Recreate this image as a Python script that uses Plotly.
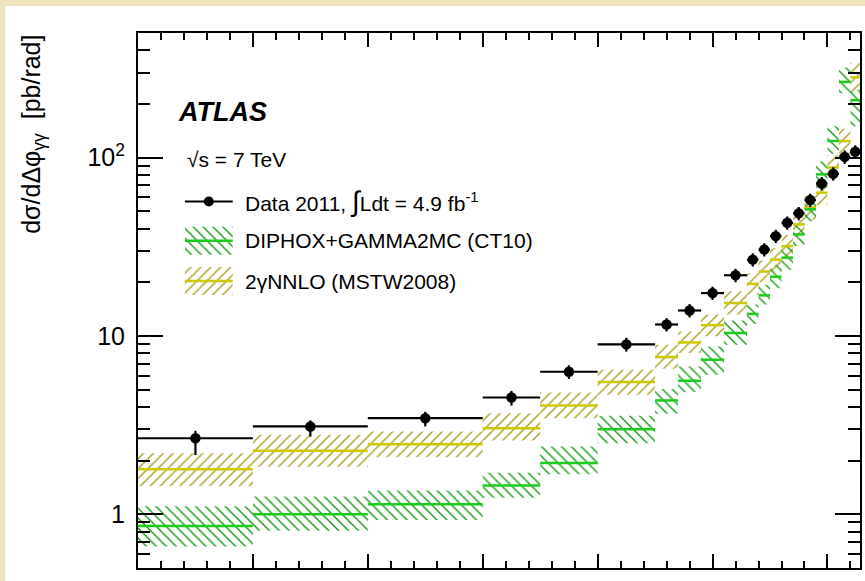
import numpy as np
import plotly.graph_objects as go

# ---------------- data ----------------
bin_edges = [0.0, 0.5, 1.0, 1.5, 1.75, 2.0, 2.25, 2.35, 2.45, 2.55, 2.65,
             2.7, 2.75, 2.8, 2.85, 2.9, 2.95, 3.0, 3.05, 3.1, float(np.pi)]

data_val = [2.67, 3.11, 3.46, 4.52, 6.3, 8.97, 11.6, 13.9, 17.4, 21.9,
            26.8, 30.5, 36.3, 43.1, 48.7, 57.8, 71.7, 81.3, 101, 108]
data_err_up = [0.27, 0.25, 0.30, 0.40, 0.55, 0.8, 1.0, 1.2, 1.5, 1.9,
               2.3, 2.6, 3.1, 3.7, 4.2, 5.0, 6.2, 7.0, 8.7, 9.3]
data_err_dn = [0.52, 0.38, 0.35, 0.45, 0.55, 0.8, 1.0, 1.2, 1.5, 1.9,
               2.3, 2.6, 3.1, 3.7, 4.2, 5.0, 6.2, 7.0, 8.7, 9.3]

diphox_val = [0.86, 1.0, 1.14, 1.45, 1.94, 3.0, 4.35, 5.61, 7.36, 10.4,
              13.3, 16.9, 21.5, 27.5, 37.1, 51.3, 80.6, 124, 266, 210]
diphox_lo = [0.66, 0.81, 0.93, 1.24, 1.68, 2.5, 3.66, 4.85, 6.06, 8.93,
             11.7, 15.0, 18.5, 23.5, 32, 44, 68, 105, 230, 150]
diphox_hi = [1.11, 1.26, 1.36, 1.71, 2.4, 3.57, 5.04, 6.75, 8.74, 12.2,
             15.0, 19.4, 25, 32, 43, 60, 95, 150, 320, 240]

nnlo_val = [1.79, 2.27, 2.47, 3.04, 4.07, 5.52, 7.62, 9.2, 11.5, 15.3,
            19.6, 23, 26.8, 31.9, 42.2, 52.5, 63.6, 88, 124, 282]
nnlo_lo = [1.44, 1.85, 2.09, 2.59, 3.46, 4.68, 6.55, 8.02, 9.95, 13.2,
           17, 20, 23, 27.5, 36, 45, 54, 75, 105, 230]
nnlo_hi = [2.2, 2.79, 2.91, 3.69, 4.82, 6.47, 8.93, 10.6, 13.2, 17.8,
           22.5, 26.5, 31, 37, 49, 61, 74, 103, 145, 340]

x_major_ticks = [0, 0.5, 1.0, 1.5, 2.0, 2.5, 3.0]
x_minor_ticks = [round(0.1 * i, 2) for i in range(32)]
y_tick_vals = [1, 10, 100]
y_tick_text = ["1", "10", "10<sup>2</sup>"]
y_minor_ticks = [0.5, 0.6, 0.7, 0.8, 0.9, 2, 3, 4, 5, 6, 7, 8, 9,
                 20, 30, 40, 50, 60, 70, 80, 90, 200, 300, 400, 500]

legend_labels = ["Data 2011, <span style='font-size:28px'>∫</span>Ldt = 4.9 fb<sup>-1</sup>",
                 "DIPHOX+GAMMA2MC (CT10)",
                 "2γNNLO (MSTW2008)"]

# ---------------- styles ----------------
FONT = "Liberation Sans, Arial, Helvetica, sans-serif"
GREEN_HATCH = "#139a13"
GREEN_LINE = "#1ccc1c"
YEL_HATCH = "#a89e1e"
YEL_LINE = "#cdc800"
BEIGE = "#EFE4BE"
HATCH_SIZE = 7
HATCH_SOLIDITY = 0.2

centers = [(bin_edges[i] + bin_edges[i + 1]) / 2 for i in range(len(data_val))]
halfw = [(bin_edges[i + 1] - bin_edges[i]) / 2 for i in range(len(data_val))]


def band_xy(lo, hi):
    xs, ys = [], []
    for i in range(len(lo)):
        x0, x1 = bin_edges[i], bin_edges[i + 1]
        xs += [x0, x1, x1, x0, x0, None]
        ys += [lo[i], lo[i], hi[i], hi[i], lo[i], None]
    return xs, ys


def step_xy(v):
    xs, ys = [], []
    for i in range(len(v)):
        xs += [bin_edges[i], bin_edges[i + 1], None]
        ys += [v[i], v[i], None]
    return xs, ys


def hatch(shape, color):
    return dict(shape=shape, fgcolor=color, bgcolor="rgba(0,0,0,0)",
                size=HATCH_SIZE, solidity=HATCH_SOLIDITY, fgopacity=1)


fig = go.Figure()

# NNLO band
bx, by = band_xy(nnlo_lo, nnlo_hi)
fig.add_trace(go.Scatter(x=bx, y=by, mode="none", fill="toself",
                         fillcolor="rgba(0,0,0,0)", fillpattern=hatch("/", YEL_HATCH),
                         hoverinfo="skip"))
# DIPHOX band
bx, by = band_xy(diphox_lo, diphox_hi)
fig.add_trace(go.Scatter(x=bx, y=by, mode="none", fill="toself",
                         fillcolor="rgba(0,0,0,0)", fillpattern=hatch("\\", GREEN_HATCH),
                         hoverinfo="skip"))
sx, sy = step_xy(nnlo_val)
fig.add_trace(go.Scatter(x=sx, y=sy, mode="lines", line=dict(color=YEL_LINE, width=2.5)))
sx, sy = step_xy(diphox_val)
fig.add_trace(go.Scatter(x=sx, y=sy, mode="lines", line=dict(color=GREEN_LINE, width=2.5)))

# Data
fig.add_trace(go.Scatter(
    x=centers, y=data_val, mode="markers",
    marker=dict(color="black", size=10.5, symbol="circle"),
    error_y=dict(type="data", symmetric=False, array=data_err_up, arrayminus=data_err_dn,
                 thickness=2.2, width=0, color="black"),
    error_x=dict(type="data", array=halfw, thickness=2.2, width=0, color="black"),
))

# ---------------- legend (drawn on an overlay pixel axis) ----------------
LEG_X0, LEG_X1 = 185, 233
LEG_TEXT_X = 243
ROW_Y = [201.5, 240.7, 281]
BOX_H = 28

fig.add_trace(go.Scatter(x=[LEG_X0, LEG_X1], y=[ROW_Y[0], ROW_Y[0]], mode="lines",
                         line=dict(color="black", width=2.2), xaxis="x2", yaxis="y2"))
fig.add_trace(go.Scatter(x=[(LEG_X0 + LEG_X1) / 2], y=[ROW_Y[0]], mode="markers",
                         marker=dict(color="black", size=10), xaxis="x2", yaxis="y2"))
for row, shape, hcol, lcol in [(1, "\\", GREEN_HATCH, GREEN_LINE), (2, "/", YEL_HATCH, YEL_LINE)]:
    yc = ROW_Y[row]
    fig.add_trace(go.Scatter(
        x=[LEG_X0, LEG_X1, LEG_X1, LEG_X0, LEG_X0],
        y=[yc - BOX_H / 2, yc - BOX_H / 2, yc + BOX_H / 2, yc + BOX_H / 2, yc - BOX_H / 2],
        mode="none", fill="toself", fillcolor="rgba(0,0,0,0)",
        fillpattern=hatch(shape, hcol), xaxis="x2", yaxis="y2"))
    fig.add_trace(go.Scatter(x=[LEG_X0, LEG_X1], y=[yc, yc], mode="lines",
                             line=dict(color=lcol, width=2.5), xaxis="x2", yaxis="y2"))

annotations = []
for row, txt in enumerate(legend_labels):
    annotations.append(dict(x=LEG_TEXT_X, y=ROW_Y[row], xref="x2", yref="y2", text=txt,
                            showarrow=False, xanchor="left", yanchor="middle",
                            font=dict(family=FONT, size=21, color="black")))
annotations.append(dict(x=176, y=112, xref="x2", yref="y2", text="<b><i>ATLAS</i></b>",
                        showarrow=False, xanchor="left", yanchor="middle",
                        font=dict(family=FONT, size=27, color="black")))
annotations.append(dict(x=185, y=159, xref="x2", yref="y2", text="√s = 7 TeV",
                        showarrow=False, xanchor="left", yanchor="middle",
                        font=dict(family=FONT, size=21, color="black")))
# y-axis title (aligned to top of axis, ROOT style)
annotations.append(dict(x=(32 - 138) / 724, y=1.0, xref="paper", yref="paper",
                        text="dσ/dΔφ<sub>γγ</sub>&nbsp;&nbsp;[pb/rad]", textangle=-90,
                        showarrow=False, xanchor="center", yanchor="top",
                        font=dict(family=FONT, size=25, color="black")))

tick_common = dict(showline=True, linecolor="black", linewidth=2, mirror="allticks",
                   ticks="inside", tickcolor="black", tickwidth=2,
                   showgrid=False, zeroline=False)

fig.update_layout(
    width=865, height=581,
    margin=dict(l=138, r=3, t=33, b=13, pad=0),
    paper_bgcolor=BEIGE, plot_bgcolor="white",
    showlegend=False,
    font=dict(family=FONT, color="black"),
    xaxis=dict(range=[0, np.pi], tickvals=x_major_ticks, ticklen=14, showticklabels=False,
               minor=dict(tickvals=x_minor_ticks, ticks="inside", ticklen=7, tickwidth=2,
                          tickcolor="black", showgrid=False),
               **tick_common),
    yaxis=dict(type="log", range=[np.log10(0.5), np.log10(500)],
               tickvals=y_tick_vals, ticktext=y_tick_text, ticklen=25,
               tickfont=dict(family=FONT, size=25, color="black"), ticklabelstandoff=6,
               minor=dict(tickvals=y_minor_ticks, ticks="inside", ticklen=12, tickwidth=2,
                          tickcolor="black", showgrid=False),
               **tick_common),
    xaxis2=dict(overlaying="x", anchor="y2", range=[138, 862], visible=False),
    yaxis2=dict(overlaying="y", anchor="x2", range=[568, 33], visible=False),
    annotations=annotations,
    shapes=[dict(type="rect", xref="paper", yref="paper", layer="below",
                 x0=(5 - 138) / 724, x1=(870 - 138) / 724,
                 y0=(568 - 590) / 535, y1=(568 - 6) / 535,
                 fillcolor="white", line=dict(width=0))],
)

fig.write_html("out.html")
